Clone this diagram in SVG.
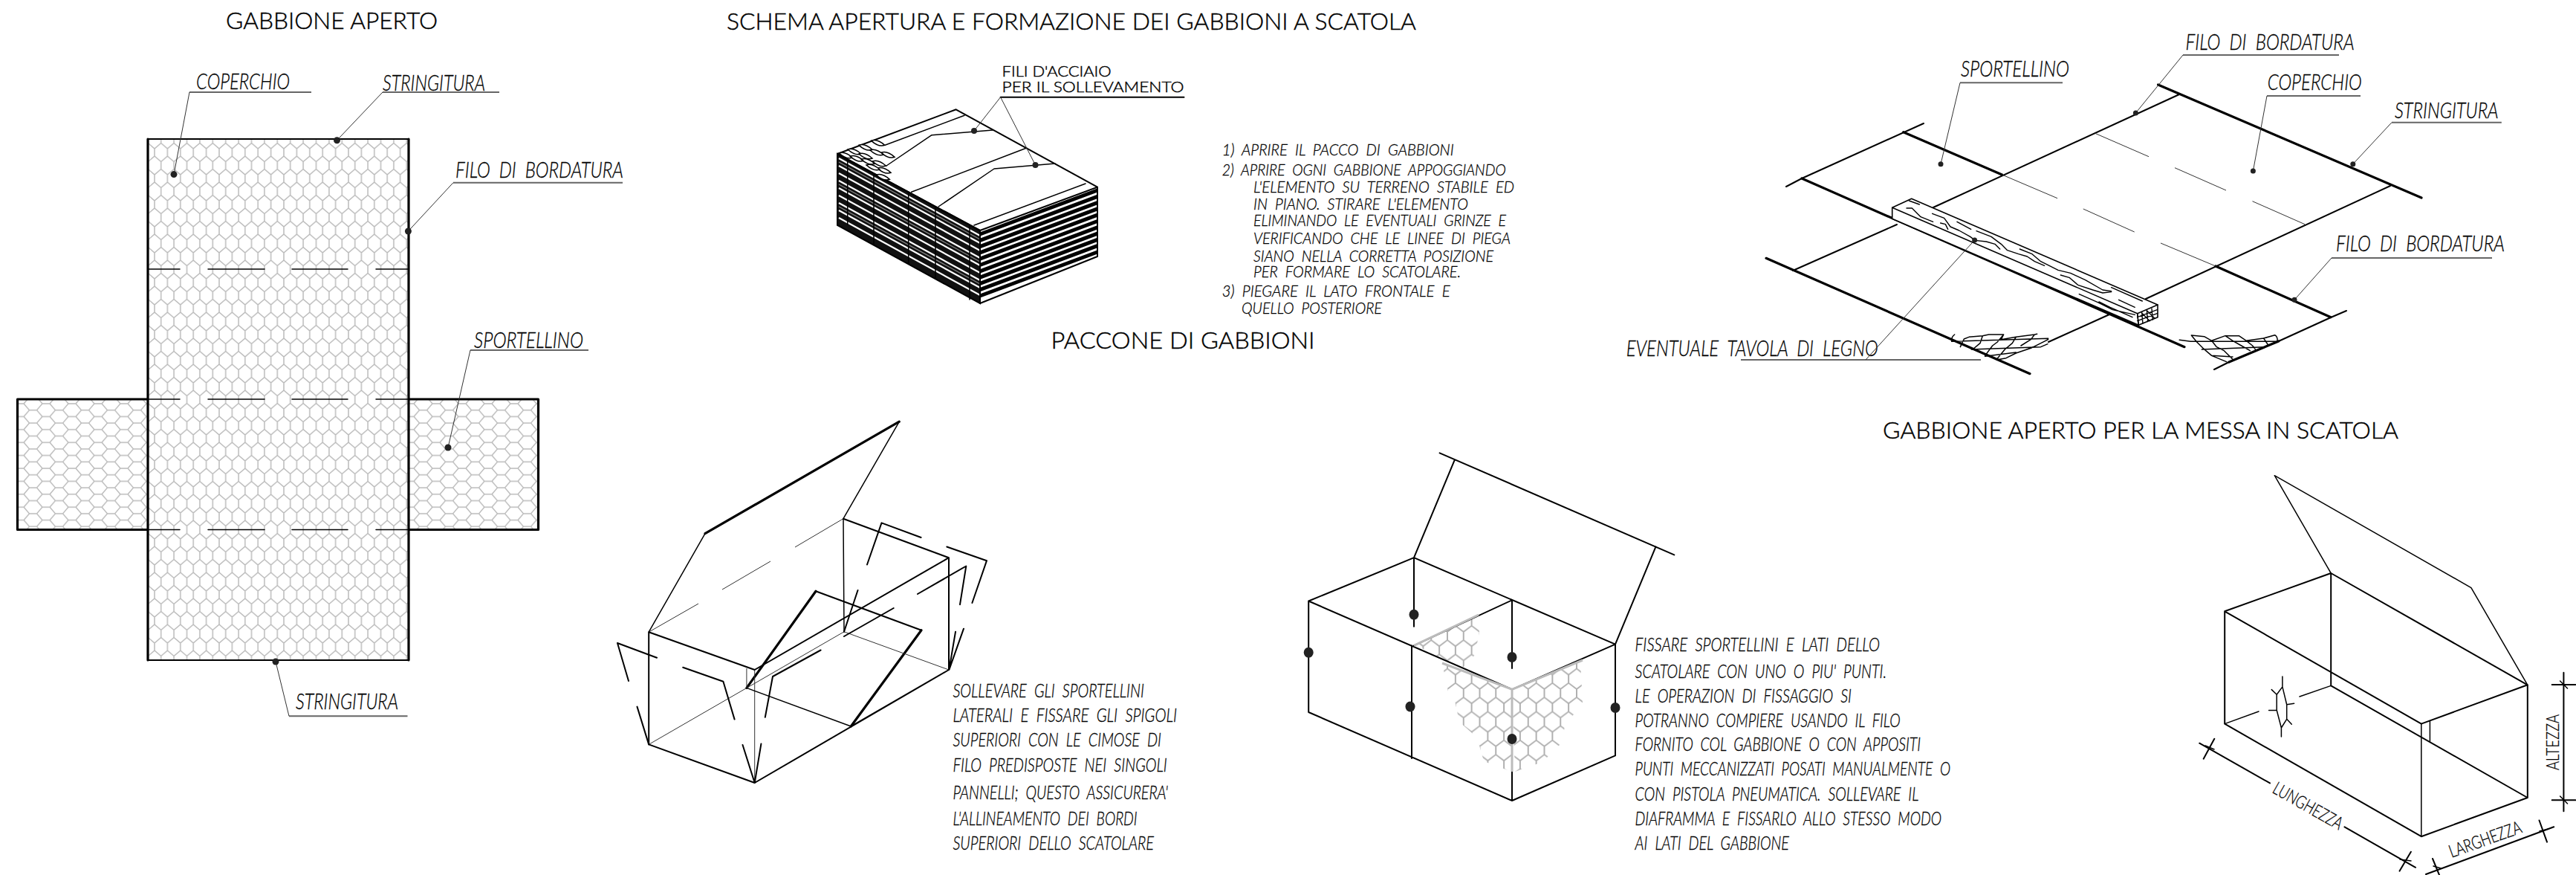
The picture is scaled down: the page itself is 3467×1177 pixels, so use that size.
<svg xmlns="http://www.w3.org/2000/svg" xmlns:xlink="http://www.w3.org/1999/xlink" width="3467" height="1177" viewBox="0 0 3467 1177">
<style>
text{fill:#000;stroke:#000;stroke-width:.3;font-family:"Lato","Liberation Sans",Arial,sans-serif;font-weight:300}
.t{stroke-width:.45;font-size:32px}
.l{font-style:italic;font-size:29px}
.n{font-style:italic;font-size:22px}
.s{font-style:italic;font-size:25px}
.f{stroke-width:.45;font-size:20px}
.d{font-size:24px}
.a{fill:none;stroke:#000;stroke-width:1.5;stroke-linecap:round;stroke-linejoin:round}
.b{fill:none;stroke:#000;stroke-width:2;stroke-linecap:round;stroke-linejoin:round}
.c{fill:none;stroke:#000;stroke-width:3.2;stroke-linecap:round;stroke-linejoin:round}
.h{fill:none;stroke:#333;stroke-width:1}
.u{fill:none;stroke:#666;stroke-width:2}
.k{fill:#222}
.g{fill:none;stroke:#bbb;stroke-width:3}
</style>
<defs>
<pattern id="m1" patternUnits="userSpaceOnUse" width="17.4" height="35" x="208" y="200"><path d="M0 0V10L8.7 17.5V27.5L0 35M17.4 0V10L8.7 17.5M8.7 27.5L17.4 35" fill="none" stroke="#bbb" stroke-width="1.5"/></pattern>
<pattern id="m2" patternUnits="userSpaceOnUse" width="17.4" height="35" patternTransform="translate(32 543) rotate(90)"><path d="M0 0V10L8.7 17.5V27.5L0 35M17.4 0V10L8.7 17.5M8.7 27.5L17.4 35" fill="none" stroke="#bbb" stroke-width="1.5"/></pattern>
<pattern id="m3" patternUnits="userSpaceOnUse" width="17.4" height="35" patternTransform="translate(2035 927) scale(1.25 1.1)"><path d="M0 0V10L8.7 17.5V27.5L0 35M17.4 0V10L8.7 17.5M8.7 27.5L17.4 35" fill="none" stroke="#b0b0b0" stroke-width="1.6"/></pattern>
<path id="e" d="M-9 -3Q-1 -6 9 3Q1 6 -9 -3Z" fill="#fff" stroke="#000" stroke-width="1.6"/>
</defs>

<g id="gabbione-aperto">
<text class="t" x="304" y="39" textLength="285" lengthAdjust="spacingAndGlyphs">GABBIONE APERTO</text>
<rect x="23.5" y="537" width="701" height="175.5" fill="url(#m2)"/>
<rect x="199" y="187" width="351" height="701" fill="#fff"/>
<rect x="199" y="187" width="351" height="701" fill="url(#m1)"/>
<path class="c" d="M199 537H23.5V712.5H199M550 537H724.5V712.5H550M199 187V888M550 187V888"/>
<path class="b" d="M199 187H550M199 888H550"/>
<path class="a" d="M199 362H242M280 362H356M393 362H468M506 362H550M199 537H242M280 537H356M393 537H468M506 537H550M199 712.5H242M280 712.5H356M393 712.5H468M506 712.5H550"/>
<text class="l" x="264" y="120" textLength="126" lengthAdjust="spacingAndGlyphs">COPERCHIO</text>
<text class="l" x="515" y="122" textLength="138" lengthAdjust="spacingAndGlyphs">STRINGITURA</text>
<text class="l" x="613" y="239" textLength="226" lengthAdjust="spacingAndGlyphs" xml:space="preserve">FILO  DI  BORDATURA</text>
<text class="l" x="638" y="468" textLength="147" lengthAdjust="spacingAndGlyphs">SPORTELLINO</text>
<text class="l" x="398" y="954" textLength="138" lengthAdjust="spacingAndGlyphs">STRINGITURA</text>
</g>

<g id="paccone">
<text class="t" x="978" y="40" textLength="928" lengthAdjust="spacingAndGlyphs">SCHEMA APERTURA E FORMAZIONE DEI GABBIONI A SCATOLA</text>
<text class="f" x="1348.6" y="103" textLength="147" lengthAdjust="spacingAndGlyphs">FILI D'ACCIAIO</text>
<text class="f" x="1348.6" y="124" textLength="245" lengthAdjust="spacingAndGlyphs">PER IL SOLLEVAMENTO</text>
<text class="t" x="1414.6" y="469" textLength="355" lengthAdjust="spacingAndGlyphs">PACCONE DI GABBIONI</text>
<path d="M1127 207L1319 310V408L1127 303Z" fill="#111" stroke="#000" stroke-width="2"/>
<path d="M1129 213L1319 317M1129 223L1319 327M1129 233L1319 337M1129 243L1319 347M1129 253L1319 357M1129 263L1319 367M1129 273L1319 377M1129 283L1319 387M1129 293L1319 397" fill="none" stroke="#fff" stroke-width="2.2"/>
<path d="M1129 218L1319 322M1129 248L1319 352M1129 278L1319 382" fill="none" stroke="#888" stroke-width="1.2"/>
<path d="M1319 315L1477 256M1319 323.3L1477 264.3M1319 331.6L1477 272.6M1319 339.9L1477 280.9M1319 348.2L1477 289.2M1319 356.5L1477 297.5M1319 364.8L1477 305.8M1319 373.1L1477 314.1M1319 381.4L1477 322.4M1319 389.7L1477 330.7M1319 398L1477 339" fill="none" stroke="#000" stroke-width="5"/>
<path class="b" d="M1127 207L1286.7 147.3L1477 251.7L1319 310ZM1477 251.7V345L1319 408V310"/>
<path class="a" d="M1298 155.3L1191.7 195M1226.7 258.3L1381.7 199M1311 303L1461 247M1193 223L1254 181.7L1336 175M1263 278L1338 227L1420 220M1140.7 215V302M1176 235V328M1222.7 258V355M1259 278V375M1305 303V403"/>
<use xlink:href="#e" x="1181.7" y="192.3"/><use xlink:href="#e" x="1165" y="198.3"/><use xlink:href="#e" x="1150" y="204"/><use xlink:href="#e" x="1138.3" y="209"/><use xlink:href="#e" x="1195" y="208.3"/><use xlink:href="#e" x="1180" y="205"/><use xlink:href="#e" x="1165" y="210"/><use xlink:href="#e" x="1153.3" y="213.3"/><use xlink:href="#e" x="1183.3" y="220"/><use xlink:href="#e" x="1168.3" y="217.3"/><use xlink:href="#e" x="1190" y="229.3"/><use xlink:href="#e" x="1175" y="225"/><use xlink:href="#e" x="1188.3" y="238.3"/>
</g>

<g id="istruzioni">
<text class="n" x="1644.7" y="209" textLength="312" lengthAdjust="spacingAndGlyphs" xml:space="preserve">1)  APRIRE  IL  PACCO  DI  GABBIONI</text>
<text class="n" x="1644.7" y="235.7" textLength="382" lengthAdjust="spacingAndGlyphs" xml:space="preserve">2)  APRIRE  OGNI  GABBIONE  APPOGGIANDO</text>
<text class="n" x="1687" y="259" textLength="351" lengthAdjust="spacingAndGlyphs" xml:space="preserve">L'ELEMENTO  SU  TERRENO  STABILE  ED</text>
<text class="n" x="1687" y="281.7" textLength="289" lengthAdjust="spacingAndGlyphs" xml:space="preserve">IN  PIANO.  STIRARE  L'ELEMENTO</text>
<text class="n" x="1687" y="304" textLength="340" lengthAdjust="spacingAndGlyphs" xml:space="preserve">ELIMINANDO  LE  EVENTUALI  GRINZE  E</text>
<text class="n" x="1687" y="328" textLength="346" lengthAdjust="spacingAndGlyphs" xml:space="preserve">VERIFICANDO  CHE  LE  LINEE  DI  PIEGA</text>
<text class="n" x="1687" y="352" textLength="323" lengthAdjust="spacingAndGlyphs" xml:space="preserve">SIANO  NELLA  CORRETTA  POSIZIONE</text>
<text class="n" x="1687" y="373" textLength="279" lengthAdjust="spacingAndGlyphs" xml:space="preserve">PER  FORMARE  LO  SCATOLARE.</text>
<text class="n" x="1644.7" y="399" textLength="307" lengthAdjust="spacingAndGlyphs" xml:space="preserve">3)  PIEGARE  IL  LATO  FRONTALE  E</text>
<text class="n" x="1671" y="421.7" textLength="189" lengthAdjust="spacingAndGlyphs" xml:space="preserve">QUELLO  POSTERIORE</text>
</g>

<g id="gabbione-disteso">
<path class="b" d="M2933 127L2602 279M2553 302L2413 364M3217 250L2888 402M2839 423L2757 460M3158 418L3137 427L3066.7 459M3000 487L2980 497M2589 166L2425 240L2404 251"/>
<path class="c" d="M2904.6 114L3259 266M2561.8 177.7L2694.5 235M2982 358L3137 426.7M2425 240L2940 466.7M2377 347.3L2732 502.7M3000 487L3066.7 459"/>
<path class="h" d="M2694.5 235L2769 266.7M2803.8 281L2872.7 312M2908 327L2982 358M2819.7 179.3L2892 210.7M2927 225.7L2996 256M3031.5 270.7L3102 301.7"/>
<path d="M2572.7 267.3L2904 410V426.7L2878.3 437.3L2546.7 294.3V279.3Z" fill="#fff" stroke="#000" stroke-width="1.6" stroke-linejoin="round"/>
<path class="a" d="M2546.7 279.3L2876.7 421.7L2904 410M2876.7 421.7L2878.3 437.3"/>
<g transform="translate(2530 250) scale(.3333)" fill="none" stroke="#000" stroke-width="4.2" stroke-linecap="round" stroke-linejoin="round">
<path d="M118 60L160 75M108 90L130 90L150 110L165 125L215 145M212 112L260 130L285 165L320 180L365 205L385 220L430 225L465 235L485 255M245 150L265 155L275 175M312 145L368 175M390 182L450 205L490 235L515 260L560 275L595 285L625 305L665 322M565 255L615 275L650 305L680 320L720 340L770 352L830 380L900 420L935 425M730 360L765 370L800 400L860 420L900 432L935 428M935 410L1060 465M965 460L1030 490M805 437L880 470L940 500L1030 520M885 468L930 490L1020 530"/>
<path d="M1040 515L1045 562M1058 510L1062 555M1078 500L1082 548M1098 495L1102 540M1040 530L1120 500M1040 545L1120 515M1060 515L1090 545M1080 505L1110 535"/>
</g>
<g transform="translate(2600 400) scale(.3333)" fill="none" stroke="#000" stroke-width="4.5" stroke-linecap="round" stroke-linejoin="round">
<path d="M92 150Q78 160 80 178L470 166M160 210L440 200L468 188M215 238L340 222M130 168L150 160L205 155L230 150L290 150L280 170L340 160L415 150L425 148M130 168L115 200M205 155L195 185L165 210M290 150L265 180L245 195L215 235M340 160L325 185L295 210L262 250M415 150L400 170L360 195M262 252L300 245L340 225L400 205L470 170"/>
<path d="M1000 172L1045 178L1395 178M1090 210L1345 200M1130 235L1215 240M1048 153L1100 158L1130 175L1185 155L1240 155L1270 175L1340 165L1385 152Q1398 160 1395 178M1048 153L1070 180L1095 205L1130 235L1190 260M1130 175L1150 200L1180 215L1215 250M1185 155L1215 175L1250 195L1285 215M1270 175L1295 195L1310 215M1340 165L1360 195"/>
</g>
<text class="l" x="2941.6" y="66.7" textLength="227" lengthAdjust="spacingAndGlyphs" xml:space="preserve">FILO  DI  BORDATURA</text>
<text class="l" x="2639" y="103" textLength="146" lengthAdjust="spacingAndGlyphs">SPORTELLINO</text>
<text class="l" x="3051.7" y="120.7" textLength="127" lengthAdjust="spacingAndGlyphs">COPERCHIO</text>
<text class="l" x="3223" y="159" textLength="139.6" lengthAdjust="spacingAndGlyphs">STRINGITURA</text>
<text class="l" x="3144" y="337.7" textLength="227" lengthAdjust="spacingAndGlyphs" xml:space="preserve">FILO  DI  BORDATURA</text>
<text class="l" x="2188.7" y="479.3" textLength="339" lengthAdjust="spacingAndGlyphs" xml:space="preserve">EVENTUALE  TAVOLA  DI  LEGNO</text>
<text class="t" x="2534" y="590" textLength="694" lengthAdjust="spacingAndGlyphs">GABBIONE APERTO PER LA MESSA IN SCATOLA</text>
</g>

<g id="scatola-sportellini">
<path class="c" d="M949 717.6L1210.3 567.2M1004.9 925.4L1098 795.3M1240 847.7L1145.3 977"/>
<path class="a" d="M1210.3 567.2L1135 697.7M949 717.6L873.2 850.2"/>
<path class="h" d="M873.2 850.2L940 812M972 793L1037 755M1070 736L1135 697.7M873.2 1001.4L1136 849.8M1136 849.8L1277 901M1015.7 901V1053M1004.9 899V925.4"/>
<path class="a" d="M1135 697.7L1136 849.8M1004.9 925.4L1145.3 977"/>
<path class="b" d="M873.2 850.2L1015.7 901L1277 750.2L1135 697.7M1277 750.2V901L1015.7 1053L873.2 1001.4V850.2M1098 795.3L1240 847.7M1145.3 977L1277 901"/>
<path class="b" d="M1167 759.5L1186.5 703.4L1239.6 723M1274.3 735.5L1328 754.2L1308.4 811M1235 799L1300.3 761.5L1292 813.2M1154.5 794L1136 849.8M1136 856L1202.7 818M1297 845.7L1277.5 900.7M1286 849.8L1277.5 900M831 865L884 884.7M831 865L846 916M919.2 897.7L973.4 916.8L988.6 967.6M1104.6 874.5L1040 910L1029.8 964.8M857.5 950.6L873.2 1001.4M999.5 1002L1015.7 1053L1024.4 1000.6"/>
<text class="s" x="1282.4" y="938.4" textLength="257.6" lengthAdjust="spacingAndGlyphs" xml:space="preserve">SOLLEVARE  GLI  SPORTELLINI</text>
<text class="s" x="1282.4" y="971" textLength="301.6" lengthAdjust="spacingAndGlyphs" xml:space="preserve">LATERALI  E  FISSARE  GLI  SPIGOLI</text>
<text class="s" x="1282.4" y="1004" textLength="280.6" lengthAdjust="spacingAndGlyphs" xml:space="preserve">SUPERIORI  CON  LE  CIMOSE  DI</text>
<text class="s" x="1282.4" y="1038" textLength="288.3" lengthAdjust="spacingAndGlyphs" xml:space="preserve">FILO  PREDISPOSTE  NEI  SINGOLI</text>
<text class="s" x="1282.4" y="1074.5" textLength="289.6" lengthAdjust="spacingAndGlyphs" xml:space="preserve">PANNELLI;  QUESTO  ASSICURERA'</text>
<text class="s" x="1282.4" y="1110" textLength="248.2" lengthAdjust="spacingAndGlyphs" xml:space="preserve">L'ALLINEAMENTO  DEI  BORDI</text>
<text class="s" x="1282.4" y="1143" textLength="270.6" lengthAdjust="spacingAndGlyphs" xml:space="preserve">SUPERIORI  DELLO  SCATOLARE</text>
</g>

<g id="scatola-fissaggio">
<path d="M1906 868L1989 829L1991 850L1985 881L1967 900L1942 887Z" fill="url(#m3)"/>
<path d="M1941 892L2035 927V1038L1997 1024L1988 992L1964 971L1958 942L1949 930Z" fill="url(#m3)"/>
<path d="M2035 927L2127 889L2130 946L2106 976L2103 998L2076 1025L2039 1038Z" fill="url(#m3)"/>
<path class="b" d="M1937.6 609.3L2253.3 746.4M1957.6 619.2L1903 750.2L2174 866.7M2228.5 735.4L2174 866.7V1016.4L2035 1077L1761.2 958V808.5L1903 750.2M1761.2 808.5L2035 927.3L2174 866.7M1903 750.2V842.8M2035 807.3V899M2035 807.3L1903 868.3M1900 868.3V1020M2035 1038V1077"/>
<path class="g" d="M1903 868.3L1990 827M1941 892L2035 927.3L2130 888M2035 927.3V1038"/>
<g class="k"><ellipse cx="1903" cy="826.8" rx="6.5" ry="7"/><ellipse cx="1761.2" cy="877.8" rx="6.5" ry="7"/><ellipse cx="2035" cy="884" rx="6.5" ry="7"/><ellipse cx="1898" cy="950.5" rx="6.5" ry="7"/><ellipse cx="2174" cy="952" rx="6.5" ry="7"/><ellipse cx="2035" cy="994" rx="6.5" ry="7"/></g>
<text class="s" x="2200.6" y="876.3" textLength="329.4" lengthAdjust="spacingAndGlyphs" xml:space="preserve">FISSARE  SPORTELLINI  E  LATI  DELLO</text>
<text class="s" x="2200.6" y="912" textLength="338.4" lengthAdjust="spacingAndGlyphs" xml:space="preserve">SCATOLARE  CON  UNO  O  PIU'  PUNTI.</text>
<text class="s" x="2200.6" y="944.8" textLength="291.4" lengthAdjust="spacingAndGlyphs" xml:space="preserve">LE  OPERAZION  DI  FISSAGGIO  SI</text>
<text class="s" x="2200.6" y="977.6" textLength="357" lengthAdjust="spacingAndGlyphs" xml:space="preserve">POTRANNO  COMPIERE  USANDO  IL  FILO</text>
<text class="s" x="2200.6" y="1010" textLength="384.4" lengthAdjust="spacingAndGlyphs" xml:space="preserve">FORNITO  COL  GABBIONE  O  CON  APPOSITI</text>
<text class="s" x="2200.6" y="1043.4" textLength="424.4" lengthAdjust="spacingAndGlyphs" xml:space="preserve">PUNTI  MECCANIZZATI  POSATI  MANUALMENTE  O</text>
<text class="s" x="2200.6" y="1077" textLength="381.8" lengthAdjust="spacingAndGlyphs" xml:space="preserve">CON  PISTOLA  PNEUMATICA.  SOLLEVARE  IL</text>
<text class="s" x="2200.6" y="1110" textLength="412.4" lengthAdjust="spacingAndGlyphs" xml:space="preserve">DIAFRAMMA  E  FISSARLO  ALLO  STESSO  MODO</text>
<text class="s" x="2200.6" y="1143" textLength="207.4" lengthAdjust="spacingAndGlyphs" xml:space="preserve">AI  LATI  DEL  GABBIONE</text>
</g>

<g id="scatola-quote">
<path class="a" d="M3137.2 771L3061.3 639.7L3325.9 790.6L3401.8 921.3M2994.2 973.6L3040 957M3095 937L3137.2 922.4M3258.8 973.6V1125.2M3270.4 969.9V997.5"/>
<path class="b" d="M3401.8 921.3L3137.2 771L2994.2 822.3L3258.8 973.6L3401.8 921.3V1073L3258.8 1125.2L2994.2 973.6V822.3M3137.2 771V922.4L3401.8 1073"/>
<path class="a" d="M3071.9 923.9L3064.2 934.2V955.2L3070.4 979L3077.7 967.3V947.8L3071.9 923.9V909.9M3064.2 934.2L3057.3 927.6M3064.2 955.2L3053.6 955.5M3077.7 947.8L3087.6 946.3M3077.7 967.3L3084.3 974.3M3070.4 979V990.9"/>
<path class="b" d="M2960.2 999.7L3055 1053.4M3155.5 1112.3L3251 1166.8M2980.3 993.8L2965.7 1020.7M3244.9 1145.8L3229.6 1171.6M3265 1176L3437.2 1112.3M3274 1155L3283 1177M3417.5 1103.5L3428 1132.6M3450.4 904.7V1091.3M3434.7 921H3466.4M3434.7 1076.3H3466.4"/>
<path class="a" d="M3445.6 916L3455.5 926M3445.6 1071L3455.5 1081M2968 1003L2980 1008M3230 1156L3245 1158M3418 1118L3430 1115M3275 1165L3285 1168"/>
<text class="d" transform="translate(3057 1065.6) rotate(29.5)" textLength="104" lengthAdjust="spacingAndGlyphs">LUNGHEZZA</text>
<text class="d" transform="translate(3299.6 1154) rotate(-19.7)" textLength="102" lengthAdjust="spacingAndGlyphs">LARGHEZZA</text>
<text class="d" transform="translate(3443.8 1036) rotate(-90)" textLength="75" lengthAdjust="spacingAndGlyphs">ALTEZZA</text>
</g>

<g id="connectors">
<path class="u" d="M419 124H255M672 124H515M838 245.7H610M792 471H633M548.5 963.3H389M3148 74H2938M2776 111.3H2638M3177 129H3051M3366.8 164.7H3219M3354 347H3138M2666 484H2343"/>
<path class="b" d="M1593.5 130.7H1346.6"/>
<path class="h" d="M255 124L234 234.6M515 124L453.5 188.7M610 245.7L549.4 311M633 471L603 602M389 963.3L371 890M1346.6 130.7L1311 176M1346.6 130.7L1393.5 222M2938 74L2874.4 152M2638 111.3L2612 220.7M3051 129L3032.4 230M3219 164.7L3166.8 220.7M3138 347L3088 403.3M2511 484L2657.6 323"/>
<g class="k"><circle cx="234" cy="234.6" r="4.5"/><circle cx="453.5" cy="188.7" r="4.5"/><circle cx="549.4" cy="311" r="4.5"/><circle cx="603" cy="602" r="4.5"/><circle cx="371" cy="890" r="4.5"/><circle cx="1311" cy="176" r="4"/><circle cx="1393.5" cy="222" r="4"/><circle cx="2874.4" cy="152" r="3.5"/><circle cx="2612" cy="220.7" r="3.5"/><circle cx="3032.4" cy="230" r="3.5"/><circle cx="3166.8" cy="220.7" r="3.5"/><circle cx="3088" cy="403.3" r="3.5"/><circle cx="2657.6" cy="323" r="3.5"/></g>
</g>
</svg>
